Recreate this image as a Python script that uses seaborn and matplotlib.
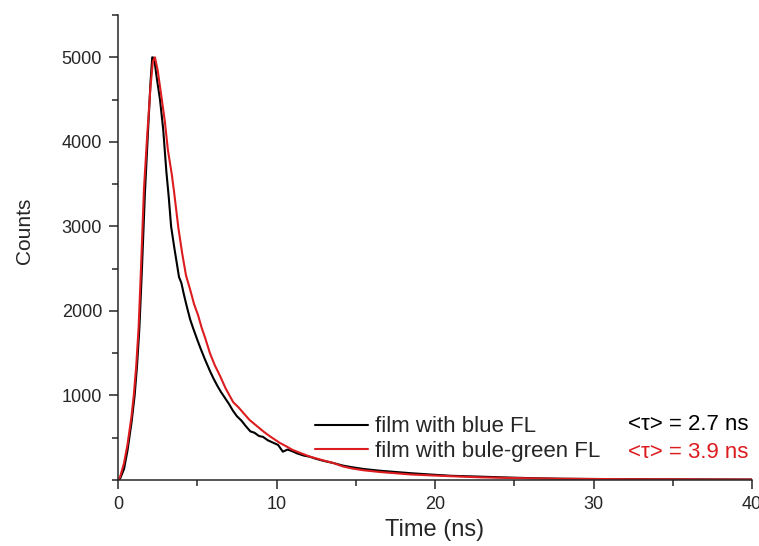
import matplotlib
matplotlib.use("Agg")
import matplotlib.pyplot as plt
from matplotlib.ticker import MultipleLocator
import seaborn as sns
import pandas as pd

# --- DATOS ---
t_blue = [0, 0.13, 0.38, 0.6, 0.86, 1.05, 1.2, 1.35, 1.5, 1.7, 1.9, 2.05, 2.16, 2.28,
          2.45, 2.65, 2.85, 3.05, 3.2, 3.35, 3.55, 3.85, 4.0, 4.15, 4.33, 4.55, 4.75,
          5.0, 5.2, 5.5, 5.8, 6.0, 6.25, 6.5, 6.75, 7.0, 7.25, 7.5, 7.8, 8.05, 8.35,
          8.6, 8.9, 9.15, 9.45, 9.8, 10.1, 10.4, 10.7, 11.0, 11.3, 11.7, 12.1, 12.5,
          13.0, 13.6, 14.2, 14.8, 15.5, 16.5, 17.5, 18.5, 19.7, 21, 22.8, 24.5, 26,
          28, 30, 32, 34, 36, 38, 40]
c_blue = [0, 15, 130, 350, 690, 1000, 1350, 1800, 2450, 3400, 4150, 4700, 5000, 4990,
          4750, 4500, 4150, 3650, 3350, 3000, 2750, 2400, 2330, 2200, 2060, 1900, 1790,
          1660, 1560, 1420, 1290, 1210, 1120, 1040, 970, 900, 820, 755, 700, 640, 575,
          560, 520, 510, 470, 440, 415, 335, 360, 340, 315, 290, 275, 250,
          225, 200, 170, 150, 130, 110, 95, 80, 65, 50, 40, 30, 22,
          15, 12, 10, 8, 7, 6, 5]

t_green = [0, 0.13, 0.38, 0.6, 0.85, 1.0, 1.15, 1.3, 1.45, 1.64, 1.85, 2.05, 2.2, 2.33,
           2.5, 2.75, 2.95, 3.15, 3.39, 3.53, 3.81, 4.05, 4.29, 4.54, 4.8, 5.05, 5.28,
           5.5, 5.8, 6.1, 6.44, 6.8, 7.27, 7.6, 7.9, 8.3, 8.75, 9.2, 9.6, 10.2, 10.6,
           11.0, 11.5, 12.1, 12.8, 13.6, 14.2, 14.8, 15.5, 16.5, 17.5, 18.5, 19.7, 21,
           22.8, 24.5, 26, 28, 30, 32, 34, 36, 38, 40]
c_green = [0, 35, 200, 420, 750, 1010, 1350, 1800, 2500, 3450, 4100, 4650, 4950, 5000,
           4850, 4520, 4250, 3900, 3620, 3420, 2980, 2680, 2420, 2260, 2080, 1950, 1800,
           1680, 1500, 1360, 1230, 1080, 920, 860, 795, 710, 640, 570, 515, 440, 400,
           357, 320, 277, 240, 200, 160, 135, 115, 95, 80, 65, 55, 45,
           32, 25, 20, 15, 12, 10, 8, 7, 6, 5]

labels = ["film with blue FL", "film with bule-green FL"]
tau_labels = ["<τ> = 2.7 ns", "<τ> = 3.9 ns"]
colors = ["black", "#dc1c1f"]

sns.set_style("ticks")
plt.rcParams['font.family'] = ['Liberation Sans', 'DejaVu Sans']

fig = plt.figure(figsize=(7.59, 5.46), dpi=100)
ax = fig.add_axes([118 / 759, 1 - 480 / 546, (752 - 118) / 759, (480 - 15) / 546])

df_b = pd.DataFrame({"t": t_blue, "c": c_blue})
df_g = pd.DataFrame({"t": t_green, "c": c_green})
sns.lineplot(data=df_b, x="t", y="c", color=colors[0], lw=1.5, ax=ax, label=labels[0])
sns.lineplot(data=df_g, x="t", y="c", color=colors[1], lw=1.5, ax=ax, label=labels[1])

ax.set_xlim(0, 40)
ax.set_ylim(0, 5500)
ax.set_yticks([1000, 2000, 3000, 4000, 5000])
ax.yaxis.set_minor_locator(MultipleLocator(500))
ax.set_xticks([0, 10, 20, 30, 40])
ax.xaxis.set_minor_locator(MultipleLocator(5))
ax.tick_params(which="major", length=6.5, width=1.1, labelsize=13, direction="out", pad=5)
ax.tick_params(which="minor", length=4.3, width=1.1, direction="out")
for s in ["left", "bottom"]:
    ax.spines[s].set_linewidth(1.1)
sns.despine(ax=ax)

ax.set_xlabel("Time (ns)", fontsize=17, labelpad=4)
ax.set_ylabel("Counts", fontsize=15)
ax.yaxis.set_label_coords(-0.133, 0.535)

leg = ax.legend(loc="center left", bbox_to_anchor=(315 / 759, 1 - 439 / 546),
                bbox_transform=fig.transFigure, frameon=False, fontsize=16,
                handlelength=2.4, handletextpad=0.3, labelspacing=0.15,
                borderpad=0, borderaxespad=0)

for i, (txt, col) in enumerate(zip(tau_labels, colors)):
    fig.text(748 / 759, 1 - (425 + 28 * i) / 546, txt, color=col, fontsize=16,
             ha="right", va="center")

plt.savefig("out.png", dpi=100)
